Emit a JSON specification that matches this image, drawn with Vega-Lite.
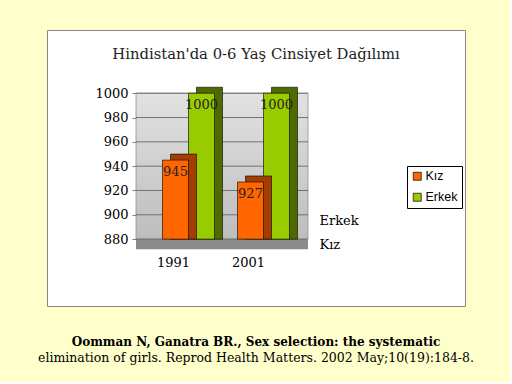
{
  "$schema": "https://vega.github.io/schema/vega-lite/v6.json",
  "background": "#FFFFCC",
  "padding": {"left": 38, "top": 29, "right": 36, "bottom": 18},
  "autosize": {"type": "pad"},
  "config": {"font": "DejaVu Serif"},
  "datasets": {
    "sexratio": [
      {"year": "1991", "series": "Erkek", "value": 1000},
      {"year": "2001", "series": "Erkek", "value": 1000},
      {"year": "1991", "series": "Kız", "value": 945},
      {"year": "2001", "series": "Kız", "value": 927}
    ],
    "grid": [{"v": 880}, {"v": 900}, {"v": 920}, {"v": 940}, {"v": 960}, {"v": 980}, {"v": 1000}]
  },
  "title": {
    "text": "Oomman N, Ganatra BR., Sex selection: the systematic",
    "subtitle": "elimination of girls. Reprod Health Matters. 2002 May;10(19):184-8.",
    "orient": "bottom",
    "anchor": "middle",
    "offset": 30,
    "font": "DejaVu Serif",
    "fontSize": 12,
    "fontWeight": "bold",
    "color": "#000000",
    "subtitleFont": "DejaVu Serif",
    "subtitleFontSize": 12.5,
    "subtitleColor": "#000000",
    "subtitlePadding": 3
  },
  "vconcat": [
    {
      "width": 418,
      "height": 276,
      "view": {"fill": "#FFFFFF", "stroke": "#868686", "strokeWidth": 1},
      "title": {"text": "Hindistan'da 0-6 Yaş Cinsiyet Dağılımı", "offset": -32, "frame": "group", "anchor": "middle", "fontSize": 14.8, "fontWeight": "normal", "font": "DejaVu Serif", "color": "#222222"},
      "resolve": {"scale": {"y": "independent"}, "axis": {"y": "independent"}},
      "layer": [
        {
          "data": {"name": "sexratio"},
          "encoding": {
            "x": {"field": "year", "type": "nominal",
              "scale": {"domain": ["1991", "2001"], "paddingInner": 0, "paddingOuter": 0, "range": [89, 239]},
              "axis": {"title": null, "offset": -67, "domain": false, "ticks": false, "labelPadding": 17, "labelAngle": 0, "labelFont": "DejaVu Serif", "labelFontSize": 13, "labelColor": "#000000", "zindex": 1}}
          },
          "layer": [
            {
              "data": {"values": [{"wall": "back"}]},
              "mark": {"type": "rect", "x2Offset": 22, "stroke": "#909090", "strokeWidth": 0.8,
                "color": {"gradient": "linear", "x1": 0, "y1": 0, "x2": 0, "y2": 1, "stops": [{"offset": 0, "color": "#E2E2E2"}, {"offset": 1, "color": "#BDBDBD"}]}},
              "encoding": {
                "x": {"datum": "1991", "bandPosition": 0},
                "x2": {"datum": "2001", "bandPosition": 1},
                "y": {"datum": 1000, "type": "quantitative",
                  "scale": {"domain": [825, 1052], "nice": false, "zero": false},
                  "axis": {"title": null, "values": [880, 900, 920, 940, 960, 980, 1000], "format": "d", "offset": -89, "domain": false, "grid": false, "ticks": true, "tickSize": 4, "tickColor": "#808080", "labelPadding": 4, "labelFont": "DejaVu Serif", "labelFontSize": 13, "labelColor": "#000000", "zindex": 1}},
                "y2": {"datum": 880}
              }
            },
            {
              "data": {"values": [{"wall": "floor"}]},
              "mark": {"type": "rect", "x2Offset": 22, "y2Offset": 10, "color": "#8C8C8C"},
              "encoding": {
                "x": {"datum": "1991", "bandPosition": 0},
                "x2": {"datum": "2001", "bandPosition": 1},
                "y": {"datum": 880, "type": "quantitative"},
                "y2": {"datum": 880}
              }
            },
            {
              "data": {"name": "grid"},
              "mark": {"type": "rule", "color": "#5A5A5A", "strokeWidth": 0.8, "x2Offset": 22},
              "encoding": {
                "y": {"field": "v", "type": "quantitative", "title": null},
                "x": {"datum": "1991", "bandPosition": 0},
                "x2": {"datum": "2001", "bandPosition": 1}
              }
            },
            {
              "transform": [{"filter": "datum.series === 'Erkek'"}],
              "mark": {"type": "bar", "color": "#4F6A00", "width": 26, "xOffset": 36, "yOffset": -6, "stroke": "#000000", "strokeWidth": 0.6},
              "encoding": {
                "y": {"field": "value", "type": "quantitative", "title": null},
                "y2": {"datum": 880}
              }
            },
            {
              "transform": [{"filter": "datum.series === 'Erkek'"}],
              "mark": {"type": "bar", "width": 26, "xOffset": 28, "stroke": "#000000", "strokeWidth": 0.6},
              "encoding": {
                "y": {"field": "value", "type": "quantitative", "title": null},
                "y2": {"datum": 880},
                "color": {"field": "series", "type": "nominal",
                  "scale": {"domain": ["Kız", "Erkek"], "range": ["#FF6600", "#99CC00"]},
                  "legend": {"title": null, "orient": "none", "legendX": 360, "legendY": 136, "direction": "vertical", "symbolType": "square", "symbolSize": 64, "symbolStrokeColor": "#000000", "symbolStrokeWidth": 0.7, "labelFont": "Liberation Sans", "labelFontSize": 12.5, "labelColor": "#000000", "strokeColor": "#000000", "fillColor": "#FFFFFF", "padding": 4, "rowPadding": 8, "labelOffset": 2}}
              }
            },
            {
              "transform": [{"filter": "datum.series === 'Erkek'"}],
              "mark": {"type": "text", "baseline": "top", "dy": 6, "xOffset": 28, "font": "DejaVu Serif", "fontSize": 13, "color": "#222222"},
              "encoding": {
                "y": {"field": "value", "type": "quantitative", "title": null},
                "text": {"field": "value", "type": "quantitative"}
              }
            },
            {
              "transform": [{"filter": "datum.series === 'Kız'"}],
              "mark": {"type": "bar", "color": "#A33D00", "width": 26, "xOffset": 10, "yOffset": -6, "stroke": "#000000", "strokeWidth": 0.6},
              "encoding": {
                "y": {"field": "value", "type": "quantitative", "title": null},
                "y2": {"datum": 880}
              }
            },
            {
              "transform": [{"filter": "datum.series === 'Kız'"}],
              "mark": {"type": "bar", "width": 26, "xOffset": 2, "stroke": "#000000", "strokeWidth": 0.6},
              "encoding": {
                "y": {"field": "value", "type": "quantitative", "title": null},
                "y2": {"datum": 880},
                "color": {"field": "series", "type": "nominal"}
              }
            },
            {
              "transform": [{"filter": "datum.series === 'Kız'"}],
              "mark": {"type": "text", "baseline": "top", "dy": 6, "xOffset": 2, "font": "DejaVu Serif", "fontSize": 13, "color": "#222222"},
              "encoding": {
                "y": {"field": "value", "type": "quantitative", "title": null},
                "text": {"field": "value", "type": "quantitative"}
              }
            }
          ]
        },
        {
          "data": {"name": "sexratio"},
          "mark": {"type": "point", "opacity": 0},
          "encoding": {
            "y": {"field": "series", "type": "nominal",
              "scale": {"type": "point", "domain": ["Erkek", "Kız"], "range": [190, 214], "padding": 0},
              "axis": {"orient": "right", "offset": -148, "domain": false, "ticks": false, "title": null, "labelPadding": 2, "labelFont": "DejaVu Serif", "labelFontSize": 13, "labelColor": "#000000", "labelAlign": "left", "zindex": 1}}
          }
        }
      ]
    }
  ]
}
